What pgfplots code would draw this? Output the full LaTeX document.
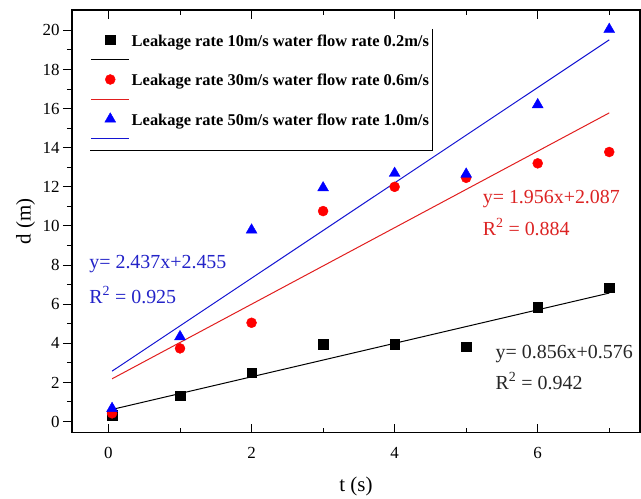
\documentclass[border=0pt]{standalone}
\usepackage{fontspec}
\setmainfont{Liberation Serif}
\usepackage{pgfplots}
\pgfplotsset{compat=1.18}

\definecolor{ptblue}{RGB}{0,0,255}
\definecolor{ptred}{RGB}{255,0,0}
\definecolor{lnblue}{RGB}{20,20,210}
\definecolor{lnred}{RGB}{225,30,30}
\definecolor{txblue}{RGB}{35,35,200}
\definecolor{txred}{RGB}{220,35,35}

\pgfplotsset{
  marklegend/.style={legend image code/.code={\draw[##1, only marks] plot coordinates {(0.67cm,0cm)};}},
  linelegend/.style={legend image code/.code={\draw[##1] (0cm,0cm) -- (1.34cm,0cm);}},
}
\tikzset{eqlabel/.style={anchor=west, font=\rmfamily\fontsize{20}{20}\selectfont, inner sep=0pt}}

\begin{document}
\begin{tikzpicture}
\begin{axis}[
  scale only axis,
  width=568bp, height=422.7bp,
  xmin=-0.51, xmax=7.43,
  ymin=-0.57, ymax=21.04,
  xtick={0,2,4,6}, minor xtick={1,3,5,7},
  ytick={0,2,...,20}, minor ytick={1,3,...,19},
  xtick align=inside, ytick align=outside,
  ytick pos=left,
  major tick length=9bp, minor tick length=5bp,
  axis line style={line width=1.1bp},
  every tick/.style={black, line width=1bp},
  tick label style={font=\rmfamily\fontsize{17}{17}\selectfont},
  /pgf/number format/assume math mode=true,
  xticklabel style={yshift=-11bp},
  xlabel={t (s)}, ylabel={d (m)},
  label style={font=\rmfamily\fontsize{21}{21}\selectfont},
  xlabel style={at={(rel axis cs:0.5,-0.128)}, anchor=center},
  ylabel style={at={(rel axis cs:-0.0815,0.5)}, anchor=center},
  clip=false,
  legend cell align=left,
  legend style={name=leg, draw=none, fill=none,
    at={(rel axis cs:0.634,0.669)}, anchor=south east,
    font=\rmfamily\fontsize{16.5}{20.5}\selectfont\bfseries,
    inner xsep=1bp, inner ysep=1bp, row sep=0pt},
]
\coordinate (sw) at (rel axis cs:0,0);
\coordinate (ne) at (rel axis cs:1,1);

% measured points
\addplot[only marks, mark=square*, mark size=4.7bp, color=black, marklegend]
  coordinates {(0.05,0.33) (1,1.33) (2,2.5) (3,3.95) (4,3.95) (5,3.83) (6,5.85) (7,6.84)};
\addlegendentry{\strut Leakage rate 10m/s water flow rate 0.2m/s}
\addplot[black, line width=1bp, linelegend]
  coordinates {(0.05,0.619) (7,6.568)};
\addlegendentry{\strut}

\addplot[only marks, mark=*, mark size=5bp, color=ptred, marklegend]
  coordinates {(0.05,0.42) (1,3.74) (2,5.05) (3,10.76) (4,12.0) (5,12.46) (6,13.2) (7,13.78)};
\addlegendentry{\strut Leakage rate 30m/s water flow rate 0.6m/s}
\addplot[lnred, line width=1bp, linelegend]
  coordinates {(0.05,2.185) (7,15.779)};
\addlegendentry{\strut}

\addplot[only marks, mark=triangle*, mark size=6.3bp, color=ptblue, marklegend]
  coordinates {(0.05,0.67) (1,4.34) (2,9.79) (3,11.95) (4,12.69) (5,12.65) (6,16.2) (7,20.05)};
\addlegendentry{\strut Leakage rate 50m/s water flow rate 1.0m/s}
\addplot[lnblue, line width=1bp, linelegend]
  coordinates {(0.05,2.577) (7,19.514)};
\addlegendentry{\strut}

% fit equations
\node[eqlabel, text=txblue] at (axis cs:-0.27,8.05) {y= 2.437x+2.455};
\node[eqlabel, text=txblue] at (axis cs:-0.27,6.47) {R\textsuperscript{2} = 0.925};
\node[eqlabel, text=txred] at (axis cs:5.23,11.38) {y= 1.956x+2.087};
\node[eqlabel, text=txred] at (axis cs:5.23,9.94) {R\textsuperscript{2} = 0.884};
\node[eqlabel, text=black!85] at (axis cs:5.41,3.45) {y= 0.856x+0.576};
\node[eqlabel, text=black!85] at (axis cs:5.41,2.07) {R\textsuperscript{2} = 0.942};
\end{axis}
\draw[line width=0.8bp] (leg.north east) -- (leg.south east) -- (leg.south west);
\pgfresetboundingbox
\path[use as bounding box] ([xshift=-72bp,yshift=-66.3bp]sw) rectangle ([xshift=1bp,yshift=10bp]ne);
\end{tikzpicture}
\end{document}
